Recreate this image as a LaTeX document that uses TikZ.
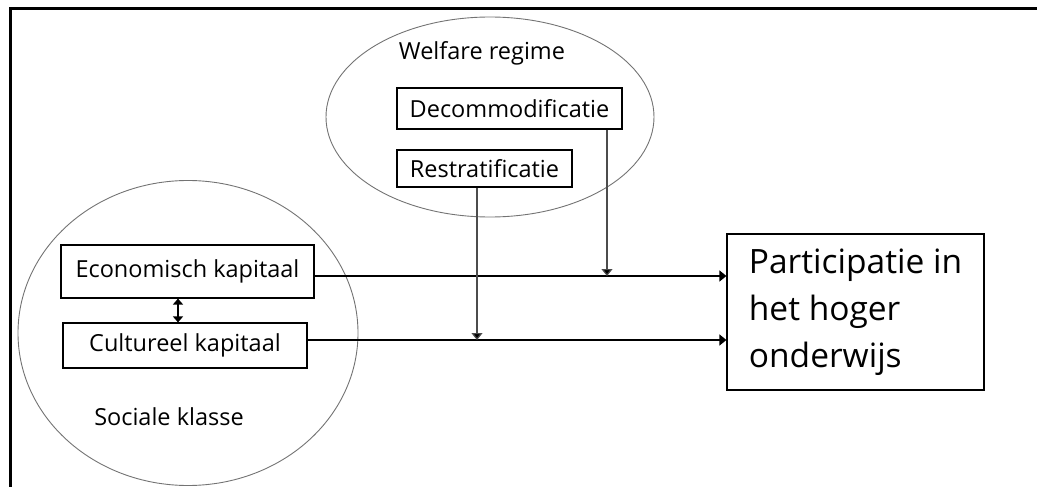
\documentclass[tikz,border=0pt]{standalone}
\usepackage{fontspec}
\setmainfont{Open Sans}
\usetikzlibrary{positioning,shapes.geometric,arrows.meta}

\begin{document}
\begin{tikzpicture}
[
x=1pt, y=-1pt,
oval-a/.style={ellipse, draw=black!55, line width=0.9pt, inner sep=0pt},
box-a/.style={rectangle, draw=black!85, line width=1.2pt, inner sep=0pt},
text-a/.style={black, font=\fontsize{23.5}{28}\selectfont},
text-b/.style={black, font=\fontsize{33.5}{47}\selectfont, align=left},
line-a/.style={line width=1.6pt, -{Triangle[length=7pt,width=11pt]}},
line-b/.style={line width=1.2pt, draw=black!70, -{Triangle[length=7pt,width=11pt, fill=black]}},
line-c/.style={line width=1.6pt, {Triangle[length=6pt,width=10pt]}-{Triangle[length=6pt,width=10pt]}}
]
\useasboundingbox (0,0) rectangle (1037,487);
\draw [line width=3pt] (10,487) -- (10,9) -- (1037,9);

% welfare regime
\node (welfare)   [oval-a, minimum width=328, minimum height=200] at (490,117)   {};
\node (welfare-t) [text-a                                       ] at (482,53)    {Welfare regime};
\node (decomm)    [box-a, text-a, minimum width=225, minimum height=41] at (509.5,108.5) {Decommodificatie};
\node (restrat)   [box-a, text-a, minimum width=175, minimum height=37] at (484.5,168.5) {Restratificatie};

% sociale klasse
\node (klasse)    [oval-a, minimum width=340, minimum height=305] at (188,333)   {};
\node (econ)      [box-a, text-a, minimum width=253, minimum height=53] at (187.5,271.5) {Economisch kapitaal};
\node (cult)      [box-a, text-a, minimum width=244, minimum height=45] at (185,345.5)   {Cultureel kapitaal};
\node (klasse-t)  [text-a                                       ] at (169,417)   {Sociale klasse};

% uitkomst
\node (part)      [box-a, text-b, minimum width=257, minimum height=156] at (855.5,312) {Participatie in\\het hoger\\onderwijs};

\coordinate (row-1) at (0,276);
\coordinate (row-2) at (0,340);
\coordinate (col-1) at (607,0);
\coordinate (col-2) at (477,0);
\coordinate (col-3) at (178,0);

\draw [line-a] (econ.east |- row-1)    -- (part.west |- row-1);
\draw [line-a] (cult.east |- row-2)    -- (part.west |- row-2);
\draw [line-b] (col-1 |- decomm.south) -- (col-1 |- row-1);
\draw [line-b] (col-2 |- restrat.south) -- (col-2 |- row-2);
\draw [line-c] (col-3 |- econ.south)   -- (col-3 |- cult.north);
\end{tikzpicture}
\end{document}
